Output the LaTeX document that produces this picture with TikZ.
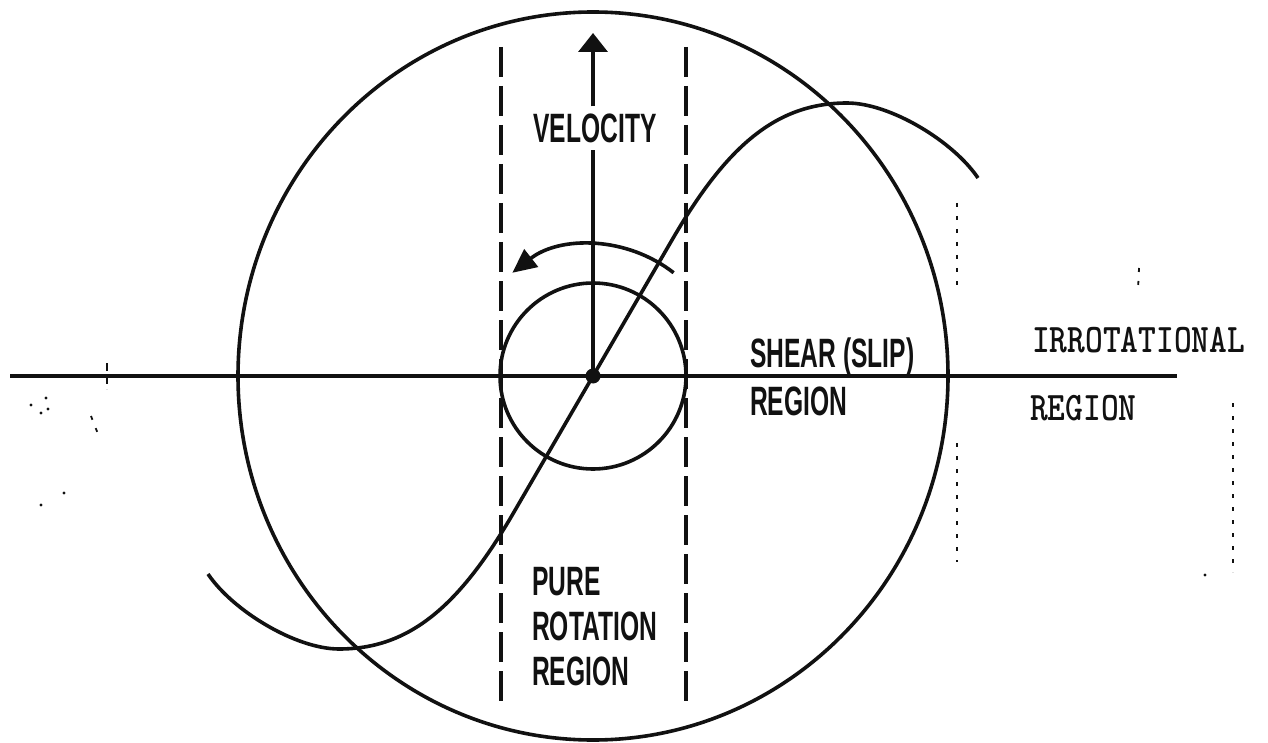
\documentclass[tikz,border=0pt]{standalone}
\usepackage{fontspec}
\usepackage{graphicx}
\usepackage{tikz}
\usetikzlibrary{arrows.meta,positioning,calc}
\setmainfont{Liberation Sans}
\definecolor{ink}{HTML}{111111}
\newcommand{\narrowcaps}[1]{\scalebox{0.6}[1]{#1}}
\newcommand{\tallcaps}[1]{\scalebox{1}[1.2]{#1}}

\begin{document}
\begin{tikzpicture}[x=1pt,y=-1pt,color=ink,
    stroke/.style={draw=ink, line width=3.6pt},
    bound/.style={draw=ink, line width=3.2pt, dash pattern=on 30pt off 9pt},
    speck/.style={draw=ink, line width=1.8pt, dash pattern=on 4pt off 9pt},
    caps/.style={inner sep=0pt, text=ink, font=\bfseries\fontsize{41}{45}\selectfont},
    typed/.style={inner sep=0pt, text=ink, font=\ttfamily\bfseries\fontsize{33.8}{36}\selectfont}]
  \useasboundingbox (0,0) rectangle (1268,743);

  \coordinate (O) at (593,376);
  \coordinate (axL) at (10,376);
  \coordinate (axR) at (1177,376);

  % axis and the vortex outline
  \draw[stroke] (axL) -- (axR);
  \draw[draw=ink, line width=2pt, dash pattern=on 8pt off 5pt] (107,363) -- (107,389);
  \draw[stroke] (O) ellipse [x radius=355, y radius=364];
  \draw[stroke] (O) circle [radius=93];

  % core strip
  \draw[bound] (501,47) -- (501,703);
  \draw[bound] (686,47) -- (686,703);

  % velocity profile
  \draw[stroke] (208,574) .. controls (233,611) and (296,649) .. (339,649)
    .. controls (409,649) and (459,607) .. (514,512) -- (672,240)
    .. controls (727,145) and (777,103) .. (847,103)
    .. controls (890,103) and (953,141) .. (978,178);

  % velocity axis with its label
  \node[caps, outer sep=7pt] (vel) at (595,128) {\narrowcaps{VELOCITY}};
  \coordinate (tip) at (593,33);
  \draw[stroke] (O) -- (vel.south -| O);
  \draw[stroke, -{Triangle[width=29pt,length=19pt]}] (vel.north -| O) -- (tip);

  % sense of rotation
  \draw[stroke, -{Triangle[width=22pt,length=24pt]}]
    ($(O)+(-52:131)$) arc [start angle=-52, end angle=-128, radius=131];
  \fill[ink] (O) circle [radius=7.5];

  % labels
  \node[caps, anchor=base west] (shear) at (750,367) {\narrowcaps{SHEAR (SLIP)}};
  \node[caps, anchor=base west] (shearreg) at (750,415) {\narrowcaps{REGION}};
  \node[caps, anchor=north west, align=left] (pure) at (532,567)
    {\narrowcaps{PURE}\\\narrowcaps{ROTATION}\\\narrowcaps{REGION}};
  \node[typed, anchor=base west] (irrot) at (1032,352) {\tallcaps{IRROTATIONAL}};
  \node[typed, anchor=base west] (irrotreg) at (1030,420) {\tallcaps{REGION}};

  % scan specks
  \draw[speck] (957,203) -- (957,288);
  \draw[speck] (957,443) -- (957,562);
  \draw[speck] (1233,403) -- (1233,572);
  \draw[speck] (1139,268) -- (1138,290);
  \draw[speck] (91,416) -- (98,434);
  \foreach \sx/\sy in {31/405,46/398,48/409,41/413,64/493,41/505,1205/575}
    \fill[ink] (\sx,\sy) circle [radius=1.6];
\end{tikzpicture}
\end{document}
